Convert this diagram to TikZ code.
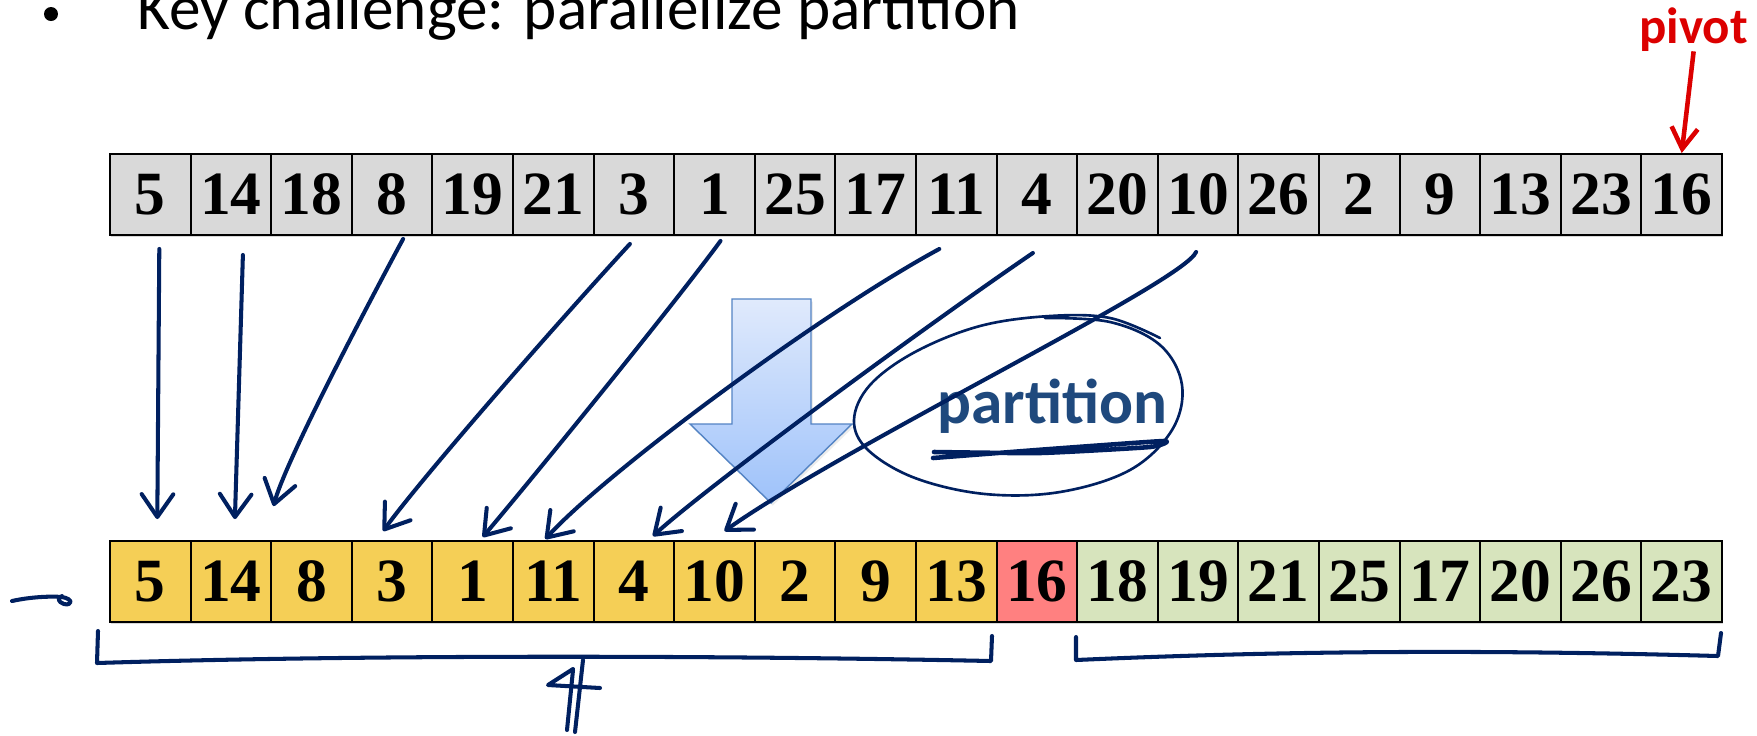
\documentclass[tikz,border=0pt]{standalone}
\usepackage{fontspec}
\setmainfont{Carlito}
\newfontfamily\numfont{Liberation Serif}
\definecolor{inkblue}{RGB}{0,32,96}
\definecolor{cellgray}{RGB}{217,217,217}
\definecolor{lowyellow}{RGB}{245,207,86}
\definecolor{pivotpink}{RGB}{255,128,128}
\definecolor{highgreen}{RGB}{215,228,189}
\definecolor{pivotred}{RGB}{220,0,0}
\definecolor{textblue}{RGB}{31,73,125}
\definecolor{arrowtop}{RGB}{224,234,252}
\definecolor{arrowbottom}{RGB}{158,194,250}
\definecolor{arrowline}{RGB}{84,132,196}
\usetikzlibrary{calc}
\usetikzlibrary{arrows.meta}
\usetikzlibrary{shadows}

\tikzset{
  cell/.style={draw=black, line width=1.1pt, minimum width=1.612cm, minimum height=1.62cm,
    inner sep=0pt, font=\numfont\bfseries\fontsize{35}{35}\selectfont,
    drop shadow={shadow xshift=0.8pt, shadow yshift=-1.2pt, opacity=0.3}},
  pen/.style={draw=inkblue, line width=2.3pt, line cap=round, line join=round},
  penarrow/.style={pen, -{Straight Barb[length=13pt, width=18pt, round]}},
  pivotarrow/.style={draw=pivotred, line width=2.6pt, -{Straight Barb[length=12pt, width=15pt]}},
  blockarrow/.style={draw=arrowline, line width=0.8pt, top color=arrowtop, bottom color=arrowbottom,
    drop shadow={shadow xshift=1pt, shadow yshift=-1.5pt, opacity=0.15}},
}

\begin{document}
\begin{tikzpicture}[x=0.02cm, y=-0.02cm]

  \useasboundingbox (0,0) rectangle (1757,735);
  \clip (0,0) rectangle (1757,735);
  \fill[white] (0,0) rectangle (1757,735);

  % heading, cut by the top edge
  \node [circle, fill=black, minimum size=0.28cm, inner sep=0pt] (bullet) at (51,14) {};
  \node [anchor=base west, inner sep=0pt, font=\fontsize{36}{36}\selectfont] (title) at (137,29) {Key challenge: parallelize partition};

  % input array
  \foreach \v [count=\i] in {5,14,18,8,19,21,3,1,25,17,11,4,20,10,26,2,9,13,23,16}
    \node [cell, fill=cellgray] (t\i) at (69.7+80.6*\i, 194.5) {\v};

  % partitioned array: small ones, pivot, large ones
  \foreach \v/\c [count=\i] in {5/lowyellow,14/lowyellow,8/lowyellow,3/lowyellow,1/lowyellow,
      11/lowyellow,4/lowyellow,10/lowyellow,2/lowyellow,9/lowyellow,13/lowyellow,16/pivotpink,
      18/highgreen,19/highgreen,21/highgreen,25/highgreen,17/highgreen,20/highgreen,26/highgreen,23/highgreen}
    \node [cell, fill=\c] (b\i) at (69.7+80.6*\i, 581.5) {\v};

  % pivot label
  \node [anchor=base west, inner sep=0pt, text=pivotred, font=\bfseries\fontsize{29}{29}\selectfont] (pivot) at (1639,43) {pivot};
  \draw [pivotarrow] (pivot.south) -- (t20.north);

  % big down arrow
  \draw [blockarrow] (732,299) -- (811,299) -- (811,424) -- (852,424) -- (771,503) -- (690,424) -- (732,424) -- cycle;

  % partition, circled and underlined
  \node [anchor=base west, inner sep=0pt, text=textblue, font=\bfseries\fontsize{36}{36}\selectfont] (part) at (937,423) {partition};
  \draw [pen, line width=1.5pt] plot [smooth, tension=0.6] coordinates {(1045,318) (1110,322) (1160,345) (1182,385) (1172,430) (1130,470) (1060,492) (985,494) (915,478) (868,450) (854,420) (870,385) (915,352) (980,326) (1050,316) (1110,318) (1160,338)};
  \draw [pen, line width=2.6pt] plot [smooth, tension=0.3] coordinates {(933,458) (1050,449) (1164,441) (1150,447) (1040,453) (934,452)};

  % moves of the small elements
  \draw [penarrow] ([shift={(9,13)}]t1.south) -- ([shift={(7,-21)}]b1.north);
  \draw [penarrow] ([shift={(12,19)}]t2.south) -- ([shift={(4,-21)}]b2.north);
  \draw [penarrow] ([shift={(11,3)}]t4.south) .. controls +(-35,65) and +(12,-45) .. ([shift={(-38,-34)}]b3.north);
  \draw [penarrow] ([shift={(-4,8)}]t7.south) .. controls +(-70,76) and +(40,-55) .. ([shift={(-9,-9)}]b4.north);
  \draw [penarrow] ([shift={(6,5)}]t8.south) .. controls +(-50,68) and +(45,-53) .. ([shift={(10,-3)}]b5.north);
  \draw [penarrow] ([shift={(-17,13)}]t11.south) .. controls +(-120,65) and +(60,-66) .. ([shift={(-8,-1)}]b6.north);
  \draw [penarrow] ([shift={(-4,17)}]t12.south) .. controls +(-110,75) and +(55,-50) .. ([shift={(19,-4)}]b7.north);
  \draw [penarrow] ([shift={(-2,16)}]t14.south) .. controls +(-12,30) and +(120,-85) .. ([shift={(10,-9)}]b8.north);

  % scribbles under the result
  \draw [pen] (12,601) .. controls (30,597) and (50,596) .. (62,597) .. controls (74,599) and (72,606) .. (64,604) .. controls (58,602) and (57,598) .. (62,596);
  \draw [pen] (98,631) -- (97,663) .. controls (350,655) and (700,655) .. (991,661) -- (992,636);
  \draw [pen] (1076,637) -- (1076,660) .. controls (1300,650) and (1500,650) .. (1718,656) -- (1721,633);
  \draw [pen] (567,730) -- (573,670);
  \draw [pen] (575,732) -- (583,660);
  \draw [pen] (573,669) -- (548,685) -- (600,688);

\end{tikzpicture}
\end{document}
